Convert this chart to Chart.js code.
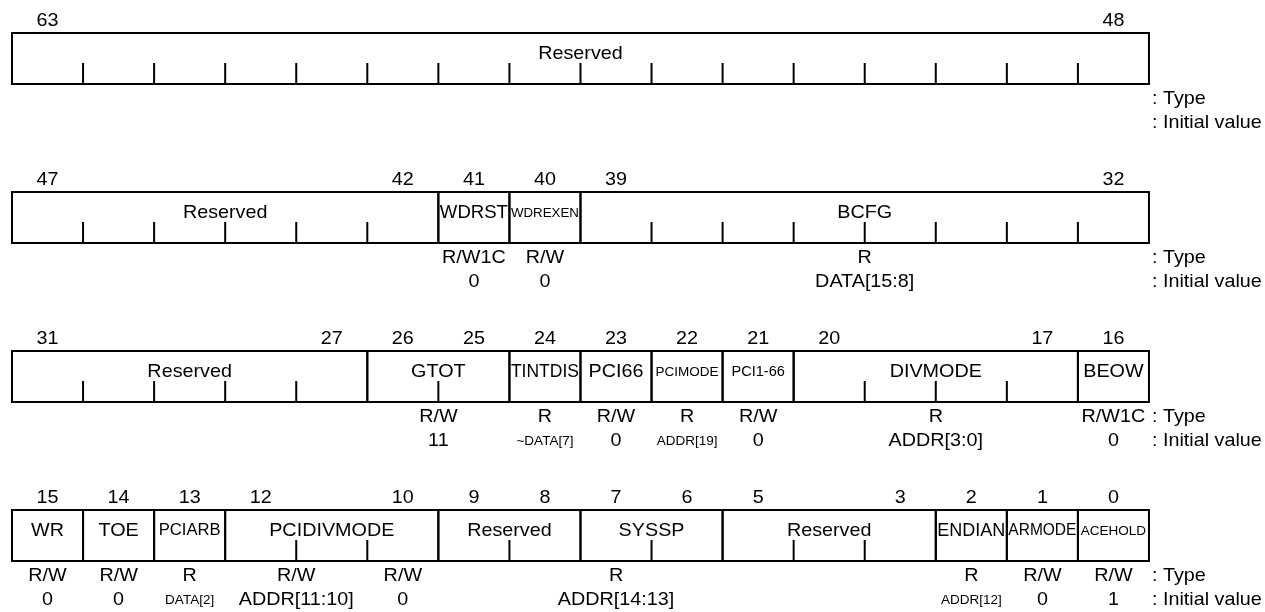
<!DOCTYPE html>
<html>
<head>
<meta charset="utf-8">
<script src="https://cdn.jsdelivr.net/npm/chart.js@4"></script>
<style>
  html, body { margin: 0; padding: 0; background: #fff; }
  canvas { display: block; }
</style>
</head>
<body>
<canvas id="regChart" width="1265" height="612"></canvas>
<script>
// register bit fields, MSB first
const fieldHigh = [63, 47, 41, 40, 39, 31, 26, 24, 23, 22, 21, 20, 16, 15, 14, 13, 12, 9, 7, 5, 2, 1, 0];
const fieldLow  = [48, 42, 41, 40, 32, 27, 25, 24, 23, 22, 21, 17, 16, 15, 14, 13, 10, 8, 6, 3, 2, 1, 0];
const fieldNames = ['Reserved', 'Reserved', 'WDRST', 'WDREXEN', 'BCFG',
    'Reserved', 'GTOT', 'TINTDIS', 'PCI66', 'PCIMODE', 'PCI1-66', 'DIVMODE', 'BEOW',
    'WR', 'TOE', 'PCIARB', 'PCIDIVMODE', 'Reserved', 'SYSSP', 'Reserved', 'ENDIAN', 'ARMODE', 'ACEHOLD'];

// access type and initial value, per bit range
const accessHigh = [41, 40, 39, 26, 24, 23, 22, 21, 20, 16, 15, 14, 13, 12, 10, 8, 2, 1, 0];
const accessLow  = [41, 40, 32, 25, 24, 23, 22, 21, 17, 16, 15, 14, 13, 11, 10, 6, 2, 1, 0];
const accessTypes = ['R/W1C', 'R/W', 'R', 'R/W', 'R', 'R/W', 'R', 'R/W', 'R', 'R/W1C',
    'R/W', 'R/W', 'R', 'R/W', 'R/W', 'R', 'R', 'R/W', 'R/W'];
const initialValues = ['0', '0', 'DATA[15:8]', '11', '~DATA[7]', '0', 'ADDR[19]', '0', 'ADDR[3:0]', '0',
    '0', '0', 'DATA[2]', 'ADDR[11:10]', '0', 'ADDR[14:13]', 'ADDR[12]', '0', '1'];

const legendLabels = [': Type', ': Initial value'];

// layout / style
const CELL_W = 71.06;
const ROW_PITCH = 159;
const BOX_H = 51;
const TICK_H = 21;
const FONT = '"Liberation Sans", Arial, sans-serif';
const BASE_SIZE = 19;
const STRETCH = 1.04;
const textSize = {
    'WDREXEN': 13, 'PCIMODE': 13, 'ACEHOLD': 13, 'PCI1-66': 14, 'ARMODE': 16, 'PCIARB': 16,
    '~DATA[7]': 13, 'ADDR[19]': 13, 'DATA[2]': 13, 'ADDR[12]': 13
};

const rowOf = bit => 3 - Math.floor(bit / 16);
const colOf = bit => 15 - (bit % 16);

function drawText(ctx, str, x, y, align, maxW) {
    const size = textSize[str] || BASE_SIZE;
    ctx.save();
    ctx.font = size + 'px ' + FONT;
    ctx.textAlign = align;
    ctx.textBaseline = 'middle';
    ctx.fillStyle = '#000';
    ctx.translate(x, y);
    ctx.scale(STRETCH, 1);
    if (maxW) {
        ctx.fillText(str, 0, 0, maxW / STRETCH);
    } else {
        ctx.fillText(str, 0, 0);
    }
    ctx.restore();
}

const registerPlugin = {
    id: 'registerPlugin',
    afterDatasetsDraw(chart) {
        const ctx = chart.ctx;
        const xs = chart.scales.x;
        const ys = chart.scales.y;
        ctx.save();
        ctx.strokeStyle = '#000';
        ctx.lineWidth = 2;

        for (let i = 0; i < fieldNames.length; i++) {
            const hi = fieldHigh[i], lo = fieldLow[i];
            const r = rowOf(hi);
            const c0 = colOf(hi), c1 = colOf(lo) + 1;
            const left = xs.getPixelForValue(c0);
            const right = xs.getPixelForValue(c1);
            const top = ys.getPixelForValue(r);
            const bottom = top + BOX_H;

            ctx.strokeRect(left, top, right - left, BOX_H);

            // short ticks between bits inside a field
            ctx.beginPath();
            for (let c = c0 + 1; c < c1; c++) {
                const px = xs.getPixelForValue(c);
                ctx.moveTo(px, bottom);
                ctx.lineTo(px, bottom - TICK_H);
            }
            ctx.stroke();

            // field name
            drawText(ctx, fieldNames[i], (left + right) / 2, top + 21, 'center', right - left - 3);

            // bit numbers
            const numY = top - 12;
            drawText(ctx, String(hi), xs.getPixelForValue(c0 + 0.5), numY, 'center');
            if (lo !== hi) {
                drawText(ctx, String(lo), xs.getPixelForValue(c1 - 0.5), numY, 'center');
            }
        }

        // access type / initial value
        for (let i = 0; i < accessTypes.length; i++) {
            const hi = accessHigh[i], lo = accessLow[i];
            const r = rowOf(hi);
            const cx = xs.getPixelForValue((colOf(hi) + colOf(lo) + 1) / 2);
            const bottom = ys.getPixelForValue(r) + BOX_H;
            const w = (colOf(lo) - colOf(hi) + 1) * CELL_W;
            drawText(ctx, accessTypes[i], cx, bottom + 15, 'center', w);
            drawText(ctx, initialValues[i], cx, bottom + 39, 'center', w);
        }

        // row legends
        const lx = xs.getPixelForValue(16) + 3;
        for (let r = 0; r < 4; r++) {
            const bottom = ys.getPixelForValue(r) + BOX_H;
            drawText(ctx, legendLabels[0], lx, bottom + 15, 'left');
            drawText(ctx, legendLabels[1], lx, bottom + 39, 'left');
        }
        ctx.restore();
    }
};

const xMin = -12 / CELL_W;
const yMin = -33 / ROW_PITCH;

new Chart(document.getElementById('regChart'), {
    type: 'scatter',
    data: {
        datasets: [{
            label: 'fields',
            data: fieldNames.map((n, i) => ({
                x: (colOf(fieldHigh[i]) + colOf(fieldLow[i]) + 1) / 2,
                y: rowOf(fieldHigh[i])
            })),
            pointRadius: 0
        }]
    },
    options: {
        responsive: false,
        animation: false,
        layout: { padding: 0 },
        plugins: {
            legend: { display: false },
            tooltip: { enabled: false }
        },
        scales: {
            x: { type: 'linear', display: false, min: xMin, max: xMin + 1265 / CELL_W },
            y: { type: 'linear', display: false, reverse: true, min: yMin, max: yMin + 612 / ROW_PITCH }
        }
    },
    plugins: [registerPlugin]
});
</script>
</body>
</html>
